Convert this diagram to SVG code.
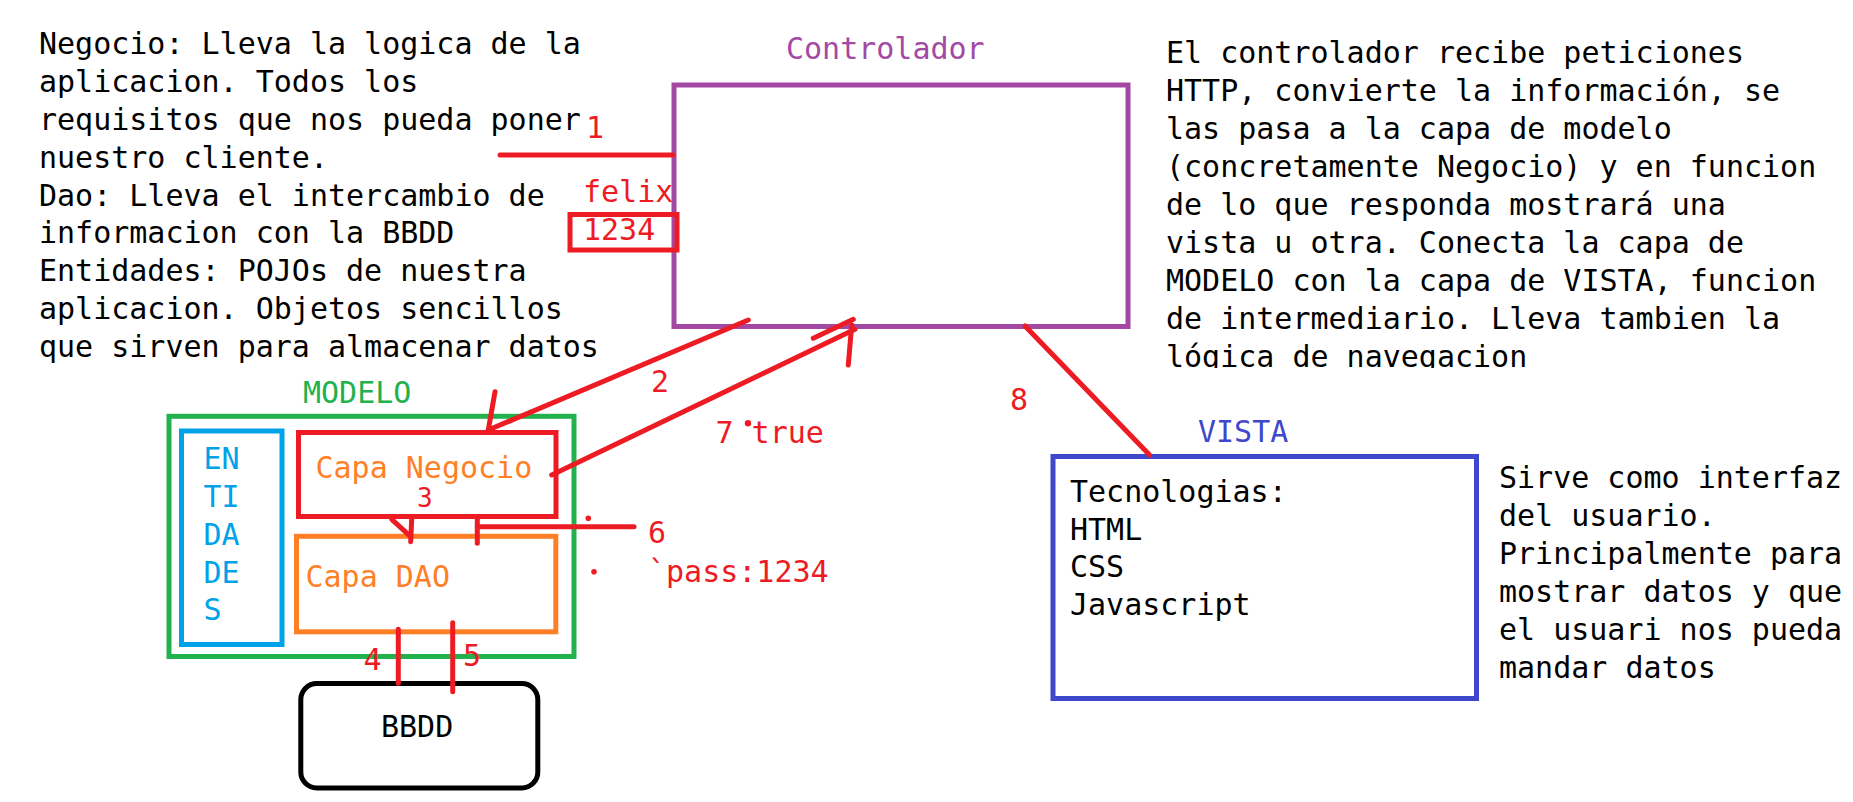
<svg xmlns="http://www.w3.org/2000/svg" width="1853" height="802" viewBox="0 0 1853 802">
<style>
text { font-family: "DejaVu Sans Mono", "Liberation Mono", monospace; font-size: 30px; }
.k { fill: #000000; }
.r { fill: #ED1C24; }
.box { fill: none; stroke-width: 5; }
.ln { fill: none; stroke: #ED1C24; stroke-width: 5; stroke-linecap: round; stroke-linejoin: round; }
</style>
<defs>
<clipPath id="clipRight"><rect x="1100" y="0" width="753" height="368"/></clipPath>
</defs>
<rect width="1853" height="802" fill="#FFFFFF"/>

<g id="nota-modelo" class="k">
<text x="39" y="54.3">Negocio: Lleva la logica de la</text>
<text x="39" y="92.1">aplicacion. Todos los</text>
<text x="39" y="129.9">requisitos que nos pueda poner</text>
<text x="39" y="167.7">nuestro cliente.</text>
<text x="39" y="205.5">Dao: Lleva el intercambio de</text>
<text x="39" y="243.3">informacion con la BBDD</text>
<text x="39" y="281.1">Entidades: POJOs de nuestra</text>
<text x="39" y="318.9">aplicacion. Objetos sencillos</text>
<text x="39" y="356.7">que sirven para almacenar datos</text>
</g>

<g id="nota-controlador" class="k" clip-path="url(#clipRight)">
<text x="1166" y="63.3">El controlador recibe peticiones</text>
<text x="1166" y="101.2">HTTP, convierte la información, se</text>
<text x="1166" y="139.1">las pasa a la capa de modelo</text>
<text x="1166" y="177">(concretamente Negocio) y en funcion</text>
<text x="1166" y="214.9">de lo que responda mostrará una</text>
<text x="1166" y="252.8">vista u otra. Conecta la capa de</text>
<text x="1166" y="290.7">MODELO con la capa de VISTA, funcion</text>
<text x="1166" y="328.6">de intermediario. Lleva tambien la</text>
<text x="1166" y="366.5">lógica de navegacion</text>
</g>

<g id="controlador">
<text x="786" y="59.3" fill="#A349A4">Controlador</text>
<rect class="box" x="674" y="85" width="454" height="241.5" stroke="#A349A4"/>
</g>

<g id="credenciales">
<text class="r" x="583" y="201.7">felix</text>
<rect class="box" x="570" y="214.5" width="107" height="35.5" stroke="#ED1C24"/>
<text class="r" x="583" y="240">1234</text>
</g>

<g id="modelo">
<text x="303" y="403.3" fill="#22B14C">MODELO</text>
<rect class="box" x="169" y="416.3" width="405" height="240.2" stroke="#22B14C"/>
</g>

<g id="entidades">
<rect class="box" x="181.5" y="431" width="100.5" height="213.5" stroke="#00A2E8"/>
<g fill="#00A2E8">
<text x="203.5" y="469.3">EN</text>
<text x="203.5" y="507.3">TI</text>
<text x="203.5" y="545">DA</text>
<text x="203.5" y="582.7">DE</text>
<text x="203.5" y="620">S</text>
</g>
</g>

<g id="capa-negocio">
<rect class="box" x="298.5" y="432.5" width="257.5" height="84" stroke="#ED1C24"/>
<text x="315.5" y="478.3" fill="#FF7F27">Capa Negocio</text>
</g>

<g id="capa-dao">
<rect class="box" x="296.5" y="536.3" width="259.3" height="95.5" stroke="#FF7F27"/>
<text x="305.5" y="586.7" fill="#FF7F27">Capa DAO</text>
</g>

<g id="bbdd">
<rect class="box" x="300.8" y="683.5" width="237" height="104.5" rx="16" ry="16" stroke="#000000"/>
<text class="k" x="381" y="736.7">BBDD</text>
</g>

<g id="vista">
<text x="1198" y="441.7" fill="#3F48CC">VISTA</text>
<rect class="box" x="1053" y="456.5" width="423.5" height="242" stroke="#3F48CC"/>
<g class="k">
<text x="1070" y="501.7">Tecnologias:</text>
<text x="1070" y="539.5">HTML</text>
<text x="1070" y="577.3">CSS</text>
<text x="1070" y="615.1">Javascript</text>
</g>
</g>

<g id="nota-vista" class="k">
<text x="1499" y="488.3">Sirve como interfaz</text>
<text x="1499" y="526.2">del usuario.</text>
<text x="1499" y="564.1">Principalmente para</text>
<text x="1499" y="602">mostrar datos y que</text>
<text x="1499" y="639.9">el usuari nos pueda</text>
<text x="1499" y="677.8">mandar datos</text>
</g>

<g id="connectors">
<!-- 1 -->
<line class="ln" x1="500" y1="155" x2="673" y2="155"/>
<!-- 2 -->
<line class="ln" x1="748.3" y1="320" x2="488.3" y2="430"/>
<line class="ln" x1="495" y1="391.7" x2="488.3" y2="430"/>
<!-- 3 -->
<line class="ln" x1="391.7" y1="519.3" x2="410.7" y2="536.7"/>
<line class="ln" x1="411.7" y1="519.3" x2="410.7" y2="541.7"/>
<!-- 4 / 5 -->
<line class="ln" x1="398.3" y1="629.3" x2="398.3" y2="683.3"/>
<line class="ln" x1="452.7" y1="622.7" x2="452.7" y2="691.7"/>
<!-- 6 -->
<line class="ln" x1="477.3" y1="519.3" x2="477.3" y2="543.3"/>
<line class="ln" x1="477.3" y1="526.7" x2="634" y2="526.7"/>
<!-- 7 -->
<line class="ln" x1="551.7" y1="475" x2="855" y2="329.3"/>
<line class="ln" x1="813.3" y1="338.3" x2="853.3" y2="319.3"/>
<line class="ln" x1="851.7" y1="325" x2="848.3" y2="365"/>
<!-- 8 -->
<line class="ln" x1="1025" y1="326" x2="1149.6" y2="455"/>
<!-- dots -->
<circle cx="588.3" cy="518.3" r="2.8" fill="#ED1C24"/>
<circle cx="594" cy="571.7" r="2.8" fill="#ED1C24"/>
<circle cx="748" cy="423.3" r="3.2" fill="#ED1C24"/>
</g>

<g id="etiquetas" class="r">
<text x="586" y="137.7">1</text>
<text x="651" y="391.7">2</text>
<text x="417" y="506.5" style="font-size:26px">3</text>
<text x="363.5" y="670">4</text>
<text x="463" y="666">5</text>
<text x="648" y="542.7">6</text>
<text x="715.5" y="443.3">7 true</text>
<text x="1010" y="410">8</text>
<text x="648" y="581.7">`pass:1234</text>
</g>
</svg>
